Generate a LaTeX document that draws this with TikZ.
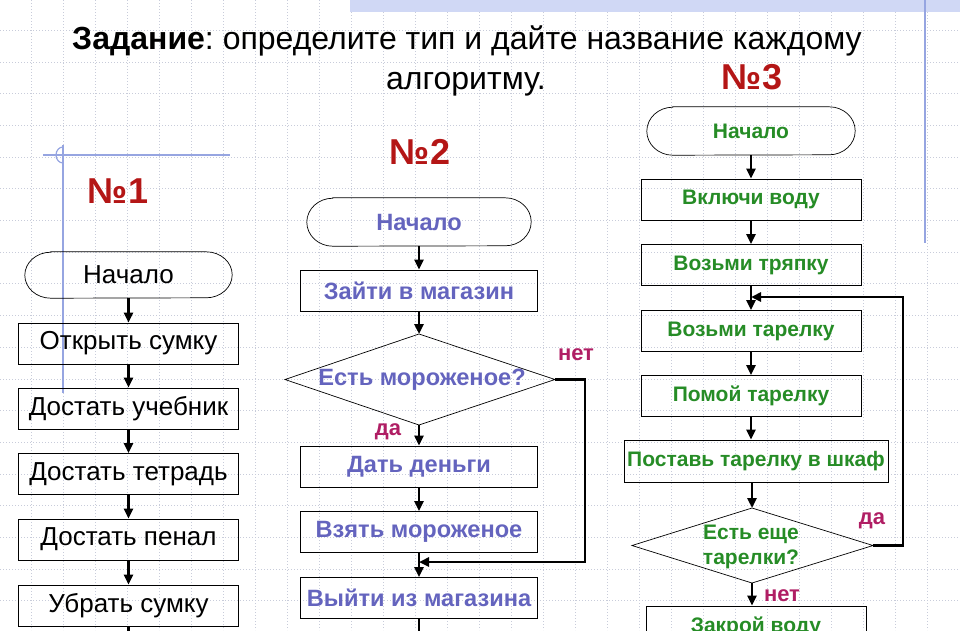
\documentclass[tikz,border=0pt]{standalone}
\usepackage{fontspec}
\setmainfont{Liberation Sans}
\usetikzlibrary{arrows.meta}
\frenchspacing
\definecolor{cnum}{RGB}{180,22,22}
\definecolor{ctwo}{RGB}{100,100,190}
\definecolor{cthree}{RGB}{38,140,38}
\definecolor{clab}{RGB}{176,30,100}
\definecolor{cblue}{RGB}{150,165,225}
\definecolor{cband}{RGB}{208,216,245}
\definecolor{cgrid}{RGB}{200,204,218}
\newcommand{\termoutline}[3]{%
  \draw[outl] ([xshift=#2pt]#1.north west) -- ([xshift=-#2pt]#1.north east)
    arc[start angle=90,end angle=-90,x radius=#2pt,y radius=#3pt]
    -- ([xshift=#2pt]#1.south west)
    arc[start angle=270,end angle=90,x radius=#2pt,y radius=#3pt] -- cycle;}
\begin{document}
\begin{tikzpicture}[x=1pt,y=-1pt,
  box/.style={draw=black, line width=0.7pt, inner sep=0pt, minimum height=41pt},
  term/.style={inner sep=0pt},
  outl/.style={draw=black, line width=0.7pt},
  fone/.style={font=\fontsize{26}{30}\selectfont},
  ftwo/.style={font=\bfseries\fontsize{23.6}{27}\selectfont, text=ctwo},
  fthree/.style={font=\bfseries\fontsize{21}{25}\selectfont, text=cthree},
  lab/.style={font=\bfseries\fontsize{22}{26}\selectfont, text=clab},
  num/.style={font=\bfseries\fontsize{36}{42}\selectfont, text=cnum},
  flow/.style={line width=2.6pt, -{Triangle[length=10pt,width=9pt]}},
  wire/.style={line width=2.6pt},
  gridl/.style={draw=cgrid, line width=0.7pt, dash pattern=on 0.8pt off 2.2pt},
  deco/.style={draw=cblue, line width=1.6pt},
]
\useasboundingbox (0,0) rectangle (960,630);
\clip (0,0) rectangle (960,630);
% background grid
\foreach \k in {1,...,29} \draw[gridl] (32*\k-1,0) -- (32*\k-1,630);
\foreach \k in {-4,...,14} \draw[gridl] (0,157+31.7*\k) -- (960,157+31.7*\k);
% decorations
\fill[cband] (350,0) rectangle (960,12);
\draw[deco] (925,0) -- (925,243);
\draw[deco] (43,155) -- (230,155);
\draw[deco] (63,145) -- (63,393);
\draw[deco, line width=1.2pt] (63,147) arc[start angle=90,end angle=270,x radius=7pt,y radius=8pt];
% title
\node[anchor=base, font=\fontsize{32}{36}\selectfont] (title1) at (467,49) {\textbf{Задание}: определите тип и дайте название каждому};
\node[anchor=base, font=\fontsize{32}{36}\selectfont] (title2) at (466,89) {алгоритму.};
% numbers
\node[num] (n1) at (118,191) {№1};
\node[num] (n2) at (420,152) {№2};
\node[num] (n3) at (752,77) {№3};
% ---------- flow 1
\node[term, fone, minimum width=207pt, minimum height=46pt] (a0) at (128.5,275) {Начало};
\termoutline{a0}{26}{23}
\node[box, fone, minimum width=220pt] (a1) at (128.5,343.5) {Открыть сумку};
\node[box, fone, minimum width=220pt] (a2) at (128.5,408.5) {Достать учебник};
\node[box, fone, minimum width=220pt] (a3) at (128.5,474) {Достать тетрадь};
\node[box, fone, minimum width=220pt] (a4) at (128.5,539.5) {Достать пенал};
\node[box, fone, minimum width=220pt] (a5) at (128.5,605.5) {Убрать сумку};
\coordinate (a6) at (128.5,632);
\draw[flow] (a0.south) -- (a1.north);
\draw[flow] (a1.south) -- (a2.north);
\draw[flow] (a2.south) -- (a3.north);
\draw[flow] (a3.south) -- (a4.north);
\draw[flow] (a4.south) -- (a5.north);
\draw[wire] (a5.south) -- (a6);
% ---------- flow 2
\node[term, ftwo, minimum width=224pt, minimum height=48pt] (b0) at (419,222) {Начало};
\termoutline{b0}{26}{24}
\node[box, ftwo, minimum width=237pt] (b1) at (419,290.5) {Зайти в магазин};
\coordinate (b2t) at (419,334);
\coordinate (b2b) at (419,425);
\coordinate (b2l) at (285,379.5);
\coordinate (b2r) at (555,379.5);
\draw[outl] (b2t) -- (b2r) -- (b2b) -- (b2l) -- cycle;
\node[ftwo] (b2) at (422,380) {Есть мороженое?};
\node[box, ftwo, minimum width=237pt] (b3) at (419,466.5) {Дать деньги};
\node[box, ftwo, minimum width=237pt] (b4) at (419,532) {Взять мороженое};
\node[box, ftwo, minimum width=237pt] (b5) at (419,598) {Выйти из магазина};
\coordinate (b6) at (419,632);
\coordinate (bj) at (419,562);
\coordinate (bc1) at (585,379.5);
\coordinate (bc2) at (585,562);
\draw[flow] (b0.south) -- (b1.north);
\draw[flow] (b1.south) -- (b2t);
\draw[flow] (b2b) -- (b3.north);
\draw[flow] (b3.south) -- (b4.north);
\draw[wire] (b4.south) -- (bj);
\draw[flow] (bj) -- (b5.north);
\draw[flow] (b2r) -- (bc1) -- (bc2) -- (bj);
\draw[wire] (b5.south) -- (b6);
\node[lab] (no2) at (576,355) {нет};
\node[lab] (yes2) at (388,432) {да};
% ---------- flow 3
\node[term, fthree, minimum width=208pt, minimum height=48pt] (c0) at (751,131) {Начало};
\termoutline{c0}{26}{24}
\node[box, fthree, minimum width=220pt] (c1) at (751,199.5) {Включи воду};
\node[box, fthree, minimum width=220pt] (c2) at (751,265) {Возьми тряпку};
\node[box, fthree, minimum width=220pt] (c3) at (751,331) {Возьми тарелку};
\node[box, fthree, minimum width=220pt] (c4) at (751,396) {Помой тарелку};
\node[box, fthree, minimum width=264pt, minimum height=42pt] (c5) at (756,461) {Поставь тарелку в шкаф};
\coordinate (c6t) at (752,508);
\coordinate (c6b) at (752,583);
\coordinate (c6l) at (632,545.5);
\coordinate (c6r) at (873,545.5);
\draw[outl] (c6t) -- (c6r) -- (c6b) -- (c6l) -- cycle;
\node[fthree, align=center, font=\bfseries\fontsize{21}{25}\selectfont] (c6) at (751,547) {Есть еще\\тарелки?};
\node[box, fthree, minimum width=220pt, minimum height=42pt] (c7) at (756,627) {Закрой воду};
\coordinate (cj) at (751,297);
\coordinate (cc1) at (903,545.5);
\coordinate (cc2) at (903,297);
\draw[flow] (c0.south) -- (c1.north);
\draw[flow] (c1.south) -- (c2.north);
\draw[flow] (c2.south) -- (c3.north);
\draw[flow] (c3.south) -- (c4.north);
\draw[flow] (c4.south) -- (c4.south |- c5.north);
\draw[flow] (c5.south -| c6t) -- (c6t);
\draw[flow] (c6b) -- (c6b |- c7.north);
\draw[flow] (c6r) -- (cc1) -- (cc2) -- (cj);
\node[lab] (yes3) at (872,521) {да};
\node[lab] (no3) at (782,596) {нет};
\end{tikzpicture}
\end{document}
